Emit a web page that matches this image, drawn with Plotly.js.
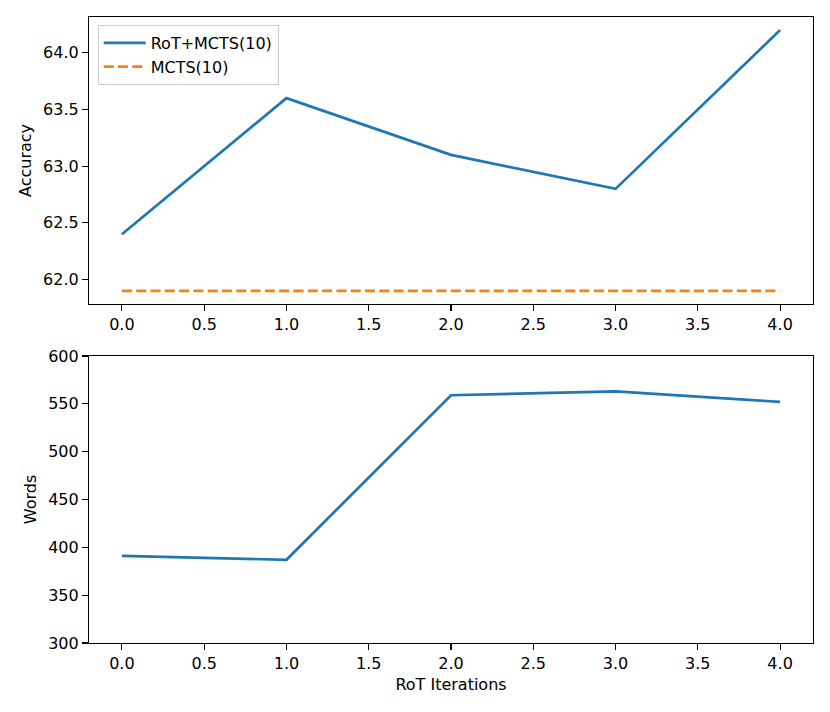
<!DOCTYPE html>
<html>
<head>
<meta charset="utf-8">
<script src="https://cdn.plot.ly/plotly-3.0.1.min.js"></script>
<style>html,body{margin:0;padding:0;background:#fff;}#chart{width:830px;height:712px;}</style>
</head>
<body>
<div id="chart"></div>
<script>
const iterations = [0, 1, 2, 3, 4];
const rotMctsAccuracy = [62.4, 63.6, 63.1, 62.8, 64.2];
const mctsAccuracy = [61.9, 61.9, 61.9, 61.9, 61.9];
const rotMctsWords = [391, 387, 559, 563, 552];
const xTickVals = [0, 0.5, 1, 1.5, 2, 2.5, 3, 3.5, 4];
const xTickText = ["0.0","0.5","1.0","1.5","2.0","2.5","3.0","3.5","4.0"];
const accTickVals = [62.0, 62.5, 63.0, 63.5, 64.0];
const accTickText = ["62.0","62.5","63.0","63.5","64.0"];
const wordTickVals = [300, 350, 400, 450, 500, 550, 600];

const blue = '#1f77b4', orange = '#ff7f0e';
const font = {family: 'DejaVu Sans, sans-serif', size: 16, color: '#000'};

const traces = [
  {x: iterations, y: rotMctsAccuracy, type: 'scatter', mode: 'lines', name: 'RoT+MCTS(10)',
   line: {color: blue, width: 2.7}, xaxis: 'x', yaxis: 'y'},
  {x: iterations, y: mctsAccuracy, type: 'scatter', mode: 'lines', name: 'MCTS(10)',
   line: {color: orange, width: 2.7, dash: '10px,4.3px'}, xaxis: 'x', yaxis: 'y'},
  {x: iterations, y: rotMctsWords, type: 'scatter', mode: 'lines', name: 'Words',
   line: {color: blue, width: 2.7}, xaxis: 'x2', yaxis: 'y2', showlegend: false}
];

const axBase = {
  showline: true, mirror: true, linecolor: '#000', linewidth: 1.1,
  ticks: 'outside', ticklen: 6, tickwidth: 1.1, tickcolor: '#000',
  showgrid: false, zeroline: false, tickfont: font
};

const H = 712;
const layout = {
  width: 830, height: 712,
  margin: {l: 89, r: 17, t: 0, b: 0},
  paper_bgcolor: '#fff', plot_bgcolor: '#fff',
  font: font,
  showlegend: true,
  legend: {x: 0.012, y: 0.965, xanchor: 'left', yanchor: 'top',
    bgcolor: 'rgba(255,255,255,0.8)', bordercolor: '#ccc', borderwidth: 1,
    font: font, tracegroupgap: 0, itemwidth: 42},
  xaxis: Object.assign({}, axBase, {domain: [0, 1], range: [-0.2, 4.2], anchor: 'y',
    tickmode: 'array', tickvals: xTickVals, ticktext: xTickText}),
  yaxis: Object.assign({}, axBase, {domain: [1 - 304 / H, 1 - 17 / H], range: [61.785, 64.315], anchor: 'x',
    tickmode: 'array', tickvals: accTickVals, ticktext: accTickText,
    title: {text: 'Accuracy', font: font, standoff: 7}}),
  xaxis2: Object.assign({}, axBase, {domain: [0, 1], range: [-0.2, 4.2], anchor: 'y2',
    tickmode: 'array', tickvals: xTickVals, ticktext: xTickText,
    title: {text: 'RoT Iterations', font: font, standoff: 6}}),
  yaxis2: Object.assign({}, axBase, {domain: [1 - 643 / H, 1 - 356 / H], range: [300, 600], anchor: 'x2',
    tickmode: 'array', tickvals: wordTickVals,
    title: {text: 'Words', font: font, standoff: 7}})
};

Plotly.newPlot('chart', traces, layout, {displayModeBar: false, staticPlot: true});
</script>
</body>
</html>
